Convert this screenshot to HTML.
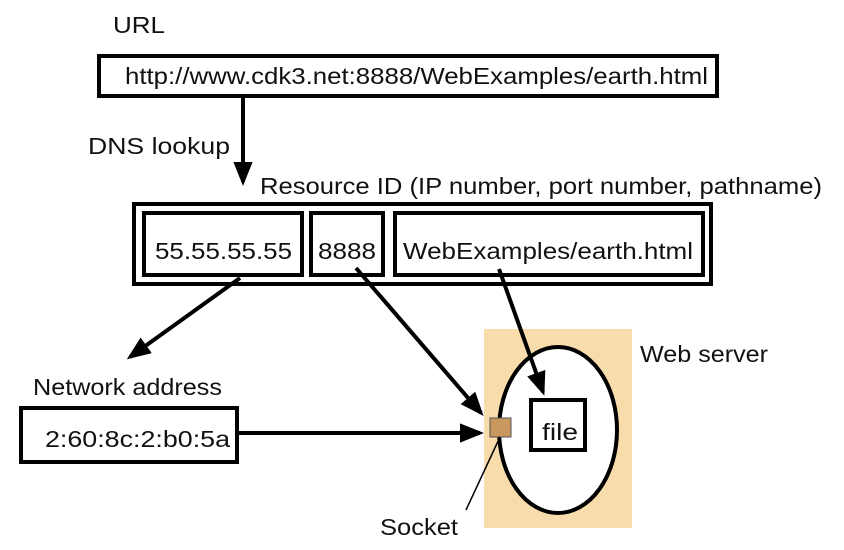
<!DOCTYPE html>
<html><head><meta charset="utf-8"><style>
html,body{margin:0;padding:0;background:#fff;width:844px;height:550px;overflow:hidden}
text{font-family:"Liberation Sans",Arial,sans-serif;fill:#111}
</style></head><body>
<svg width="844" height="550" viewBox="0 0 844 550" xmlns="http://www.w3.org/2000/svg">
<defs>
<marker id="ah" markerWidth="6" markerHeight="6" refX="5" refY="3" orient="auto" markerUnits="strokeWidth">
<path d="M0,0.6 L6,3 L0,5.4 Z" fill="#000"/></marker>
</defs>
<rect x="484" y="329" width="148" height="199" fill="#f8dcab"/>
<ellipse cx="558" cy="430" rx="59" ry="83" fill="#fff" stroke="#000" stroke-width="4"/>
<text x="113" y="33" font-size="23" textLength="52" lengthAdjust="spacingAndGlyphs">URL</text>
<rect x="99" y="56" width="618" height="40" fill="none" stroke="#000" stroke-width="4"/>
<text x="125" y="84" font-size="23" textLength="583" lengthAdjust="spacingAndGlyphs">http://www.cdk3.net:8888/WebExamples/earth.html</text>
<line x1="243" y1="96" x2="243" y2="182" stroke="#000" stroke-width="4" marker-end="url(#ah)"/>
<text x="88" y="154" font-size="23" textLength="142" lengthAdjust="spacingAndGlyphs">DNS lookup</text>
<text x="260" y="194" font-size="23" textLength="562" lengthAdjust="spacingAndGlyphs">Resource ID (IP number, port number, pathname)</text>
<rect x="134" y="204" width="577" height="80" fill="none" stroke="#000" stroke-width="4"/>
<rect x="144" y="213" width="158" height="62" fill="none" stroke="#000" stroke-width="4"/>
<rect x="311" y="213" width="72" height="62" fill="none" stroke="#000" stroke-width="4"/>
<rect x="395" y="213" width="308" height="62" fill="none" stroke="#000" stroke-width="4"/>
<text x="155" y="259" font-size="23" textLength="137" lengthAdjust="spacingAndGlyphs">55.55.55.55</text>
<text x="318" y="259" font-size="23" textLength="58" lengthAdjust="spacingAndGlyphs">8888</text>
<text x="403" y="259" font-size="23" textLength="290" lengthAdjust="spacingAndGlyphs">WebExamples/earth.html</text>
<line x1="240" y1="278" x2="130" y2="357" stroke="#000" stroke-width="4" marker-end="url(#ah)"/>
<line x1="356" y1="268" x2="481" y2="413" stroke="#000" stroke-width="4" marker-end="url(#ah)"/>
<line x1="499" y1="269" x2="543" y2="392" stroke="#000" stroke-width="4" marker-end="url(#ah)"/>
<text x="33" y="395" font-size="23" textLength="189" lengthAdjust="spacingAndGlyphs">Network address</text>
<rect x="21" y="408" width="216" height="54" fill="none" stroke="#000" stroke-width="4"/>
<text x="45" y="447" font-size="23" textLength="185" lengthAdjust="spacingAndGlyphs">2:60:8c:2:b0:5a</text>
<line x1="237" y1="433" x2="480" y2="433" stroke="#000" stroke-width="4" marker-end="url(#ah)"/>
<rect x="490" y="418" width="21" height="19" fill="#c9985f" stroke="#555" stroke-width="1"/>
<line x1="500" y1="437" x2="466" y2="510" stroke="#000" stroke-width="1.5"/>
<text x="380" y="535" font-size="23" textLength="78" lengthAdjust="spacingAndGlyphs">Socket</text>
<rect x="531" y="400" width="54" height="50" fill="#fff" stroke="#000" stroke-width="4"/>
<text x="542" y="440" font-size="23" textLength="36" lengthAdjust="spacingAndGlyphs">file</text>
<text x="640" y="362" font-size="23" textLength="128" lengthAdjust="spacingAndGlyphs">Web server</text>
</svg>
</body></html>
